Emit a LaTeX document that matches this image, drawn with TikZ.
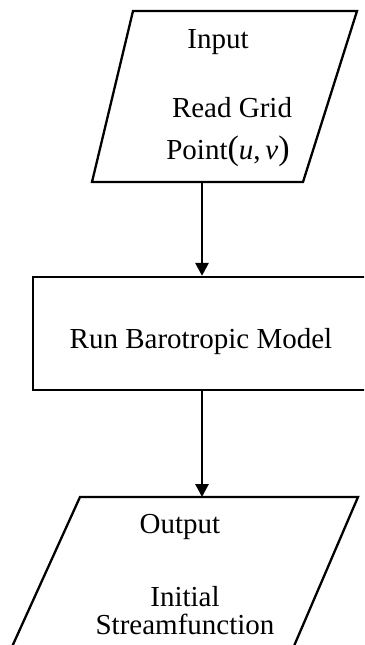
\documentclass[tikz,border=0pt]{standalone}
\usepackage{fontspec}
\setmainfont{Liberation Serif}
\usetikzlibrary{arrows.meta}
\tikzset{
  shape line/.style={line width=2.3pt, line join=miter},
  flow/.style={line width=2.8pt, -{Triangle[length=13pt,width=13pt]}},
  lbl/.style={font=\fontsize{29}{29}\selectfont, inner sep=0pt, anchor=base},
  boxnode/.style={draw, line width=2.3pt, inner sep=0pt, minimum width=333pt, minimum height=113pt}
}
\begin{document}
\begin{tikzpicture}[x=1pt,y=-1pt]
\useasboundingbox (0,0) rectangle (364,645);
\clip (0,0) rectangle (364,645);
% Input parallelogram
\draw[shape line] (133,11) -- (357,11) -- (303,182) -- (92,182) -- cycle;
\coordinate (inbot) at (202,182);
\node[lbl] (inputlbl) at (218,48) {Input};
\node[lbl] (readlbl) at (232,117) {Read Grid};
\node[lbl] (pointlbl) at (228,159) {Point{\fontsize{34}{34}\selectfont(}\textit{u},\,\textit{v}{\fontsize{34}{34}\selectfont)}};
% Run box
\node[boxnode] (run) at (199.5,333.5) {};
\node[lbl] (runlbl) at (201,348) {Run Barotropic Model};
% Output parallelogram
\draw[shape line] (80,497) -- (358,497) -- (288,660) -- (6,660) -- cycle;
\coordinate (outtop) at (202,497);
\node[lbl] (outlbl) at (180,533) {Output};
\node[lbl] (initlbl) at (185,606) {Initial};
\node[lbl] (streamlbl) at (185,634) {Streamfunction};
% connectors
\draw[flow] (inbot) -- (inbot |- run.north);
\coordinate (runbot) at (inbot |- run.south);
\draw[flow] (runbot) -- (outtop);
\end{tikzpicture}
\end{document}
